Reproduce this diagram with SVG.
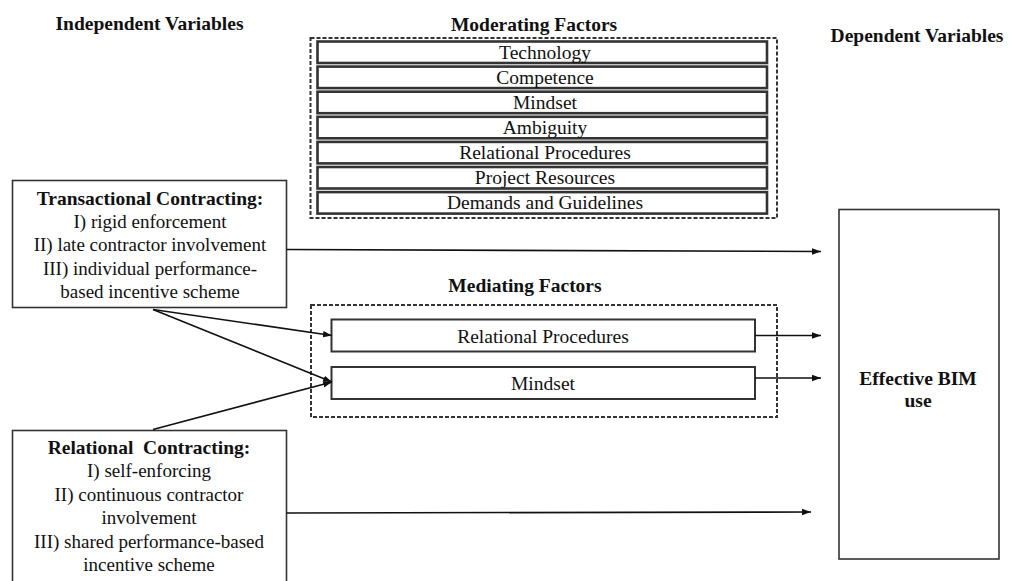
<svg xmlns="http://www.w3.org/2000/svg" width="1013" height="581" viewBox="0 0 1013 581">
<defs>
<style>
text{font-family:'Liberation Serif','Times New Roman',Times,'DejaVu Serif',serif;fill:#111;text-anchor:middle}
.h{font-weight:bold;font-size:19.5px}
.t{font-size:19px}
.m{font-size:19.5px}
.box{fill:#fff;stroke:#333;stroke-width:1.6}
.row{fill:#fff;stroke:#333;stroke-width:2.6}
.med{fill:#fff;stroke:#333;stroke-width:2}
.dash{fill:none;stroke:#333;stroke-width:2;stroke-dasharray:4 2}
.c{fill:none;stroke:#111;stroke-width:1.6}
</style>
<marker id="arr" markerUnits="userSpaceOnUse" markerWidth="10" markerHeight="8" refX="9" refY="4" orient="auto">
<path d="M0,0.8 L9,4 L0,7.2 Z" fill="#111"/>
</marker>
</defs>
<rect width="1013" height="581" fill="#fff"/>

<g id="headings" font-family="Liberation Serif, serif">
<text class="h" x="149.5" y="30">Independent Variables</text>
<text class="h" x="534" y="31">Moderating Factors</text>
<text class="h" x="917" y="42">Dependent Variables</text>
<text class="h" x="525" y="292">Mediating Factors</text>
</g>

<g id="moderating">
<rect class="dash" x="310.5" y="38" width="466.5" height="180"/>
<rect class="row" x="317.5" y="41.5" width="449.5" height="21.5"/>
<rect class="row" x="317.5" y="66.6" width="449.5" height="21.5"/>
<rect class="row" x="317.5" y="91.7" width="449.5" height="21.5"/>
<rect class="row" x="317.5" y="116.8" width="449.5" height="21.5"/>
<rect class="row" x="317.5" y="141.9" width="449.5" height="21.5"/>
<rect class="row" x="317.5" y="167" width="449.5" height="21.5"/>
<rect class="row" x="317.5" y="192.1" width="449.5" height="21.5"/>
<text class="m" x="545" y="58.5">Technology</text>
<text class="m" x="545" y="83.6">Competence</text>
<text class="m" x="545" y="108.7">Mindset</text>
<text class="m" x="545" y="133.8">Ambiguity</text>
<text class="m" x="545" y="158.9">Relational Procedures</text>
<text class="m" x="545" y="184">Project Resources</text>
<text class="m" x="545" y="209.1">Demands and Guidelines</text>
</g>

<g id="transactional">
<rect class="box" x="12.5" y="180.5" width="274" height="127"/>
<text class="h" x="150" y="204.5">Transactional Contracting:</text>
<text class="t" x="150" y="228">I) rigid enforcement</text>
<text class="t" x="150" y="251.3">II) late contractor involvement</text>
<text class="t" x="150" y="274.6">III) individual performance-</text>
<text class="t" x="150" y="298">based incentive scheme</text>
</g>

<g id="relational">
<rect class="box" x="12.5" y="430.5" width="274" height="170"/>
<text class="h" x="149" y="453.5" xml:space="preserve">Relational  Contracting:</text>
<text class="t" x="149" y="477">I) self-enforcing</text>
<text class="t" x="149" y="500.5">II) continuous contractor</text>
<text class="t" x="149" y="524">involvement</text>
<text class="t" x="149" y="547.5">III) shared performance-based</text>
<text class="t" x="149" y="571">incentive scheme</text>
</g>

<g id="mediating">
<rect class="dash" x="311" y="305" width="466" height="112"/>
<rect class="med" x="331.5" y="319.5" width="423.5" height="32"/>
<rect class="med" x="331.5" y="367" width="423.5" height="32"/>
<text class="m" x="543" y="343">Relational Procedures</text>
<text class="m" x="543" y="390">Mindset</text>
</g>

<g id="bim">
<rect class="box" x="839" y="209.5" width="160" height="349.5"/>
<text class="h" x="918" y="385">Effective BIM</text>
<text class="h" x="918" y="407">use</text>
</g>

<g id="connectors">
<line class="c" x1="286.5" y1="249.5" x2="821" y2="251.5" marker-end="url(#arr)"/>
<line class="c" x1="286.5" y1="513" x2="811" y2="512" marker-end="url(#arr)"/>
<line class="c" x1="755" y1="335.5" x2="821" y2="335.5" marker-end="url(#arr)"/>
<line class="c" x1="755" y1="378" x2="821" y2="378" marker-end="url(#arr)"/>
<line class="c" x1="153" y1="309.5" x2="332" y2="335.5" marker-end="url(#arr)"/>
<line class="c" x1="153" y1="309.5" x2="332" y2="382" marker-end="url(#arr)"/>
<line class="c" x1="153" y1="429.5" x2="332" y2="382" marker-end="url(#arr)"/>
</g>
</svg>
